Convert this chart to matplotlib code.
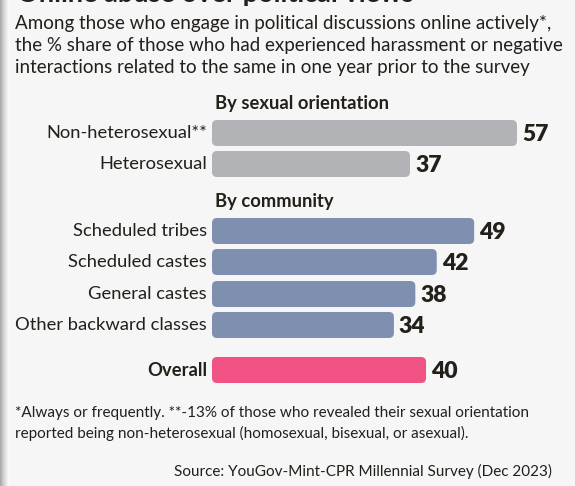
import numpy as np
import matplotlib
matplotlib.use("Agg")
import matplotlib.pyplot as plt
from matplotlib.patches import FancyBboxPatch

W, H = 575, 486
BG = "#f6f6f6"
INK = "#231f1a"

# survey shares (%)
orientation = ["Non-heterosexual**", "Heterosexual"]
orientation_vals = [57, 37]
community = ["Scheduled tribes", "Scheduled castes", "General castes", "Other backward classes"]
community_vals = [49, 42, 38, 34]
overall_label = "Overall"
overall_val = 40

title = "Online abuse over political views"
subtitle = ["Among those who engage in political discussions online actively*,",
            "the % share of those who had experienced harassment or negative",
            "interactions related to the same in one year prior to the survey"]
notes = ["*Always or frequently. **-13% of those who revealed their sexual orientation",
         "reported being non-heterosexual (homosexual, bisexual, or asexual)."]
source = "Source: YouGov-Mint-CPR Millennial Survey (Dec 2023)"

plt.rcParams["font.family"] = ["Lato", "DejaVu Sans"]

fig = plt.figure(figsize=(W / 100, H / 100), dpi=100, facecolor=BG)


def ftext(x, y, s, **kw):
    # place text using pixel coordinates measured from the top-left corner
    fig.text(x / W, 1 - y / H, s, color=INK, **kw)


# dark strip on the left edge
strip = fig.add_axes([0, 0, 10 / W, 1])
strip.imshow(np.linspace(0, 1, 50)[None, :], cmap="Greys_r", aspect="auto",
             vmin=-1.2, vmax=1.0, extent=[0, 1, 0, 1])
strip.axis("off")

# headline sits mostly above the top edge
ftext(17, 2.5, title, fontsize=19.5, fontweight="bold", va="baseline")
for i, line in enumerate(subtitle):
    ftext(15, 23 + i * 22, line, fontsize=13.5, va="center")

# bar area: x in percent, y in pixel rows
x0 = 212
px_per_unit = (517 - x0) / 57
ax = fig.add_axes([x0 / W, 0, (W - x0) / W, 1])
ax.set_xlim(0, (W - x0) / px_per_unit)
ax.set_ylim(H, 0)
ax.axis("off")
ax.patch.set_alpha(0)

bar_h = 26
rows = ([(n, v, "#b2b3b7", False) for n, v in zip(orientation, orientation_vals)] +
        [(n, v, "#7f8fb0", False) for n, v in zip(community, community_vals)] +
        [(overall_label, overall_val, "#ef5283", True)])
centers = [133, 164, 231, 262, 294, 325, 370]

for (name, val, col, bold), yc in zip(rows, centers):
    box = FancyBboxPatch((0, yc - bar_h / 2), val, bar_h,
                         boxstyle="round,pad=0,rounding_size=%.3f" % (5 / px_per_unit),
                         mutation_aspect=px_per_unit,
                         facecolor=col, edgecolor="none")
    ax.add_patch(box)
    ax.text(val + 5 / px_per_unit, yc + 1, str(val), fontsize=16.5, fontweight="heavy",
            color=INK, va="center", ha="left")
    ftext(207, yc, name, fontsize=13.2, ha="right", va="center",
          fontweight="bold" if bold else "normal")

ftext(215, 103, "By sexual orientation", fontsize=13.2, fontweight="bold", va="center")
ftext(215, 202, "By community", fontsize=13.2, fontweight="bold", va="center")

for i, line in enumerate(notes):
    ftext(15, 413 + i * 20, line, fontsize=11, va="center")
ftext(552, 471, source, fontsize=11, ha="right", va="center")

fig.savefig("out.png", dpi=100, facecolor=BG)
